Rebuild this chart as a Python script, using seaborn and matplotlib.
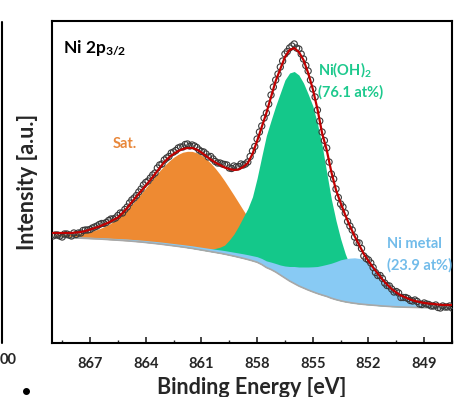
import numpy as np
import pandas as pd
import seaborn as sns
import matplotlib.pyplot as plt
from matplotlib.lines import Line2D
from matplotlib.ticker import MultipleLocator

# binding energy grid [eV]
binding_energy = [
    869.00, 868.75, 868.50, 868.25, 868.00, 867.75, 867.50, 867.25, 867.00, 866.75,
    866.50, 866.25, 866.00, 865.75, 865.50, 865.25, 865.00, 864.75, 864.50, 864.25,
    864.00, 863.75, 863.50, 863.25, 863.00, 862.75, 862.50, 862.25, 862.00, 861.75,
    861.50, 861.25, 861.00, 860.75, 860.50, 860.25, 860.00, 859.75, 859.50, 859.25,
    859.00, 858.75, 858.50, 858.25, 858.00, 857.75, 857.50, 857.25, 857.00, 856.75,
    856.50, 856.25, 856.00, 855.75, 855.50, 855.25, 855.00, 854.75, 854.50, 854.25,
    854.00, 853.75, 853.50, 853.25, 853.00, 852.75, 852.50, 852.25, 852.00, 851.75,
    851.50, 851.25, 851.00, 850.75, 850.50, 850.25, 850.00, 849.75, 849.50, 849.25,
    849.00, 848.75, 848.50, 848.25, 848.00, 847.75, 847.50,
]

# Shirley background
background = [
    106.0, 105.8, 105.6, 105.4, 105.2, 105.0, 104.8, 104.6, 104.4, 104.2,
    104.0, 103.7, 103.4, 103.1, 102.8, 102.5, 102.2, 101.8, 101.4, 101.0,
    100.5, 100.0, 99.5, 99.0, 98.4, 97.8, 97.2, 96.6, 96.0, 95.3,
    94.6, 93.8, 93.0, 92.2, 91.4, 90.6, 89.8, 88.9, 87.9, 86.9,
    85.8, 84.7, 83.5, 82.2, 80.8, 78.5, 75.5, 73.5, 71.0, 68.0,
    65.0, 62.0, 59.5, 57.0, 55.0, 53.0, 51.2, 49.5, 48.0, 46.6,
    44.8, 43.4, 42.2, 41.2, 40.4, 39.7, 39.1, 38.6, 38.2, 37.8,
    37.4, 37.0, 36.7, 36.4, 36.2, 36.0, 35.8, 35.7, 35.6, 35.5,
    35.4, 35.3, 35.2, 35.1, 35.0, 35.0, 35.0,
]

# satellite component (above background)
sat_peak = [
    2.0, 2.3, 2.7, 3.1, 3.6, 4.2, 5.0, 5.9, 7.0, 8.5,
    10.3, 12.5, 15.0, 18.4, 22.2, 26.6, 31.4, 36.7, 42.4, 48.3,
    54.6, 60.9, 67.1, 73.2, 78.9, 84.0, 88.5, 92.1, 94.8, 96.4,
    97.0, 96.4, 94.8, 92.1, 88.5, 84.0, 78.9, 73.2, 67.1, 60.9,
    54.6, 48.3, 42.4, 36.7, 31.4, 26.6, 22.2, 18.4, 15.0, 12.1,
    9.7, 7.7, 6.0, 4.6, 3.5, 2.6, 2.0, 1.5, 1.1, 0.8,
    0.6, 0.4, 0.3, 0.2, 0.1, 0.1, 0.1, 0.1, 0.1, 0.0,
    0.0, 0.0, 0.0, 0.0, 0.0, 0.0, 0.0, 0.0, 0.0, 0.0,
    0.0, 0.0, 0.0, 0.0, 0.0, 0.0, 0.0,
]

# Ni(OH)2 component (above background)
ni_oh2_peak = [
    0.0, 0.0, 0.0, 0.0, 0.0, 0.0, 0.0, 0.0, 0.0, 0.0,
    0.0, 0.0, 0.0, 0.0, 0.0, 0.0, 0.0, 0.0, 0.0, 0.0,
    0.0, 0.0, 0.0, 0.0, 0.0, 0.0, 0.0, 0.1, 0.2, 0.3,
    0.4, 0.6, 1.0, 1.5, 2.5, 4.0, 6.0, 9.0, 15.0, 22.0,
    31.0, 41.0, 51.0, 64.0, 84.0, 108.0, 132.0, 149.0, 166.0, 182.0,
    198.0, 208.0, 212.0, 211.0, 205.0, 196.0, 186.0, 170.0, 150.0, 124.0,
    99.0, 79.0, 62.0, 48.0, 37.0, 28.0, 20.0, 14.0, 9.5, 6.5,
    4.3, 2.8, 1.8, 1.1, 0.7, 0.4, 0.2, 0.0, 0.0, 0.0,
    0.0, 0.0, 0.0, 0.0, 0.0, 0.0, 0.0,
]

# Ni metal component (above background)
ni_metal_peak = [
    1.0, 1.0, 1.1, 1.1, 1.2, 1.2, 1.3, 1.3, 1.4, 1.4,
    1.5, 1.5, 1.6, 1.6, 1.7, 1.7, 1.8, 1.8, 1.9, 1.9,
    2.0, 2.0, 2.1, 2.1, 2.2, 2.2, 2.3, 2.3, 2.4, 2.5,
    2.6, 2.7, 2.8, 2.9, 3.0, 3.1, 3.3, 3.5, 3.7, 3.9,
    4.2, 4.5, 4.8, 5.1, 5.5, 6.0, 6.6, 7.4, 8.5, 10.0,
    12.0, 14.5, 17.0, 19.0, 21.0, 23.0, 25.0, 27.0, 29.5, 32.0,
    35.0, 38.0, 41.0, 43.0, 44.5, 45.5, 45.5, 44.5, 43.0, 40.0,
    33.5, 28.5, 23.5, 19.0, 15.5, 13.0, 10.0, 7.5, 5.5, 4.0,
    3.0, 2.2, 1.6, 1.2, 0.9, 0.7, 0.5,
]

# fitted envelope
envelope = [
    110.0, 110.0, 110.0, 110.0, 110.0, 110.5, 111.0, 112.0, 113.5, 115.0,
    116.5, 118.5, 120.5, 123.0, 125.5, 130.0, 135.0, 141.0, 146.5, 152.0,
    157.5, 163.0, 169.0, 175.0, 181.0, 185.5, 189.0, 192.0, 194.0, 195.0,
    195.0, 193.5, 190.5, 187.0, 183.5, 180.5, 178.0, 175.5, 174.0, 173.0,
    173.5, 176.0, 180.0, 189.0, 202.0, 216.0, 230.0, 246.0, 262.0, 274.0,
    286.0, 293.0, 295.0, 291.0, 283.0, 270.0, 254.0, 234.0, 210.0, 193.0,
    171.0, 153.0, 140.0, 128.0, 117.0, 107.0, 98.0, 89.0, 82.0, 75.5,
    69.5, 63.5, 58.5, 54.0, 50.5, 47.5, 45.5, 43.5, 42.0, 41.0,
    40.0, 39.5, 39.0, 38.5, 38.0, 38.0, 38.0,
]

# measured spectrum on the grid above
measured = [
    107.0, 108.0, 106.0, 109.0, 107.0, 108.5, 110.0, 113.0, 113.5, 116.0,
    118.5, 119.5, 122.5, 124.0, 127.5, 130.0, 136.0, 143.0, 147.5, 154.0,
    160.5, 165.0, 170.0, 178.0, 183.0, 186.5, 191.0, 195.0, 196.0, 199.0,
    198.0, 195.5, 191.5, 189.0, 186.5, 181.5, 180.0, 178.5, 175.0, 177.0,
    176.5, 178.0, 181.0, 192.0, 204.0, 217.0, 230.0, 248.0, 263.0, 276.0,
    289.0, 295.0, 299.0, 294.0, 284.0, 272.0, 254.0, 233.0, 211.0, 195.0,
    169.0, 154.0, 139.0, 130.0, 117.0, 106.0, 100.0, 87.0, 83.0, 75.5,
    67.5, 64.5, 57.5, 54.0, 51.5, 45.5, 45.5, 42.5, 43.0, 39.0,
    40.0, 38.5, 37.0, 35.5, 37.0, 36.0, 35.0,
]

# measured spectrum half way between the grid points
measured_mid = [
    108.0, 107.0, 109.0, 108.0, 110.0, 110.0, 112.5, 113.0, 115.0, 117.0,
    119.5, 120.5, 124.0, 125.0, 130.0, 133.5, 140.0, 145.0, 151.0, 158.0,
    162.0, 168.0, 175.0, 179.0, 185.0, 190.0, 192.5, 196.0, 198.5, 197.0,
    197.0, 193.0, 191.0, 186.0, 184.0, 180.0, 179.0, 178.0, 174.5, 176.0,
    179.0, 179.0, 186.5, 196.5, 211.0, 225.0, 239.0, 256.0, 269.0, 282.0,
    291.5, 297.0, 295.0, 289.0, 277.5, 263.0, 246.0, 222.0, 202.5, 181.0,
    164.0, 145.5, 136.0, 121.5, 113.0, 100.5, 94.5, 84.5, 80.0, 70.5,
    67.5, 60.0, 57.0, 51.0, 50.0, 45.5, 44.5, 42.0, 41.5, 38.5,
    39.0, 37.0, 38.0, 35.0, 36.0, 37.0,
]

xticks = [867, 864, 861, 858, 855, 852, 849]

df = pd.DataFrame({
    'be': binding_energy,
    'bg': background,
    'sat': sat_peak,
    'ohx': ni_oh2_peak,
    'metal': ni_metal_peak,
    'fit': envelope,
})

mid_be = [(a + b) / 2 for a, b in zip(binding_energy[:-1], binding_energy[1:])]
scan = pd.concat([
    pd.DataFrame({'be': binding_energy, 'raw': measured}),
    pd.DataFrame({'be': mid_be, 'raw': measured_mid}),
]).sort_values('be')

sns.set_style("white")
plt.rcParams['font.family'] = ['Lato', 'DejaVu Sans']
plt.rcParams['font.weight'] = 'bold'
plt.rcParams['mathtext.fontset'] = 'custom'
plt.rcParams['mathtext.rm'] = 'Lato:bold'
plt.rcParams['mathtext.it'] = 'Lato:bold'
plt.rcParams['mathtext.bf'] = 'Lato:bold'

orange = '#EE8A32'
green = '#14C88A'
blue = '#88CAF4'

fig = plt.figure(figsize=(4.62, 3.97), dpi=100)
ax = fig.add_axes([52 / 462, 1 - 343 / 397, 400 / 462, 322 / 397])

ax.fill_between(df['be'], df['bg'], df['bg'] + df['sat'], color=orange, lw=0, zorder=1)
ax.fill_between(df['be'], df['bg'], df['bg'] + df['ohx'], color=green, lw=0, zorder=2)
ax.fill_between(df['be'], df['bg'], df['bg'] + df['metal'], color=blue, lw=0, zorder=3)

sns.lineplot(data=df, x='be', y='bg', color='#A8A8A8', lw=1.2, ax=ax, zorder=4)
sns.scatterplot(data=scan, x='be', y='raw', marker='o', s=20, facecolor='none',
                edgecolor='#3a3a3a', linewidth=0.8, ax=ax, zorder=5)
sns.lineplot(data=df, x='be', y='fit', color='#C00000', lw=1.6, ax=ax, zorder=6)

ax.set_xlim(869.05, 847.5)
ax.set_ylim(0, 322)
ax.set_xticks(xticks)
ax.xaxis.set_minor_locator(MultipleLocator(1.5))
ax.set_yticks([])
ax.tick_params(axis='x', which='major', direction='in', length=4, width=1.2,
               pad=10, labelsize=10.5, top=False, bottom=True)
ax.tick_params(axis='x', which='minor', direction='in', length=2.5, width=1.0,
               top=False, bottom=True)
for s in ax.spines.values():
    s.set_linewidth(1.5)
    s.set_color('black')

ax.set_xlabel('Binding Energy [eV]', fontsize=15.5, fontweight='bold', labelpad=4.5)
ax.set_ylabel('Intensity [a.u.]', fontsize=15.5, fontweight='bold', labelpad=10)

ax.text(0.027, 0.90, r'Ni 2p$_{3/2}$', transform=ax.transAxes, fontsize=12.5,
        color='black', ha='left', va='baseline')
ax.text(0.1525, 0.606, 'Sat.', transform=ax.transAxes, fontsize=10.5,
        color='#E8873A', ha='left', va='baseline')
ax.text(0.665, 0.835, r'Ni(OH)$_2$', transform=ax.transAxes, fontsize=10.5,
        color='#1DC98D', ha='left', va='baseline')
ax.text(0.665, 0.764, '(76.1 at%)', transform=ax.transAxes, fontsize=10.5,
        color='#1DC98D', ha='left', va='baseline')
ax.text(0.8375, 0.295, 'Ni metal', transform=ax.transAxes, fontsize=10.5,
        color='#72BCEA', ha='left', va='baseline')
ax.text(0.8375, 0.228, '(23.9 at%)', transform=ax.transAxes, fontsize=10.5,
        color='#72BCEA', ha='left', va='baseline')

# bits of the neighbouring panel at the left edge
fig.add_artist(Line2D([1.5 / 462, 1.5 / 462], [1 - 22 / 397, 1 - 343 / 397],
                      color='black', lw=1.5))
fig.text(17 / 462, 1 - 360 / 397, '00', fontsize=10.5, ha='right', va='center')
fig.add_artist(Line2D([26 / 462], [1 - 391 / 397], marker='o', ms=4,
                      color='black', lw=0))

fig.savefig('out.png', dpi=100)
